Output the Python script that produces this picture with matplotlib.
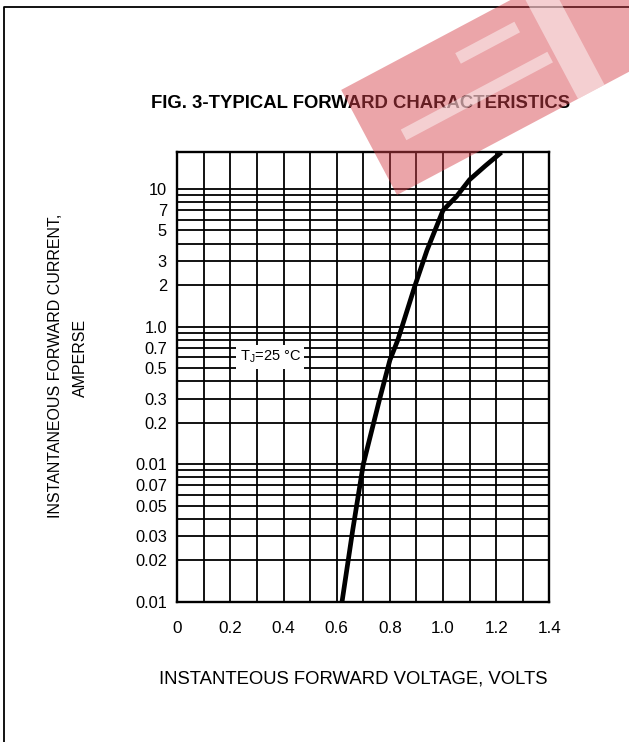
import numpy as np
import matplotlib
matplotlib.use("Agg")
import matplotlib.pyplot as plt
from matplotlib.ticker import FixedLocator, LogLocator, MultipleLocator
from matplotlib.patches import Polygon

plt.rcParams['font.family'] = ['Liberation Sans', 'DejaVu Sans']

# forward characteristic
voltage = [0.62, 0.66, 0.70, 0.76, 0.80, 0.83, 0.895, 0.94, 1.00, 1.05, 1.10, 1.16, 1.22]
current = [0.01, 0.033, 0.10, 0.29, 0.57, 0.80, 2.0, 3.6, 7.0, 8.8, 11.7, 14.8, 18.5]

x_ticks = [0, 0.2, 0.4, 0.6, 0.8, 1.0, 1.2, 1.4]
x_labels = ['0', '0.2', '0.4', '0.6', '0.8', '1.0', '1.2', '1.4']
y_ticks = [0.01, 0.02, 0.03, 0.05, 0.07, 0.1, 0.2, 0.3, 0.5, 0.7, 1, 2, 3, 5, 7, 10]
# the original sheet prints "0.01" at the 0.1 line, kept as is
y_labels = ['0.01', '0.02', '0.03', '0.05', '0.07', '0.01', '0.2', '0.3', '0.5', '0.7',
            '1.0', '2', '3', '5', '7', '10']

W, H = 629, 742
fig = plt.figure(figsize=(W / 100, H / 100), dpi=100)
ax = fig.add_axes([177.3 / W, 1 - 601.7 / H, 372.0 / W, 449.4 / H])

ax.set_yscale('log')
ax.set_xlim(0, 1.4)
ax.set_ylim(0.01, 18.5)

ax.xaxis.set_major_locator(FixedLocator(x_ticks))
ax.xaxis.set_minor_locator(MultipleLocator(0.1))
ax.set_xticklabels(x_labels)
ax.yaxis.set_major_locator(FixedLocator(y_ticks))
ax.yaxis.set_minor_locator(LogLocator(base=10, subs=np.arange(1, 10)))
ax.set_yticklabels(y_labels)
ax.yaxis.set_minor_formatter(plt.NullFormatter())

ax.tick_params(axis='both', which='both', length=0)
ax.tick_params(axis='x', pad=14, labelsize=12.3)
ax.tick_params(axis='y', pad=7.5, labelsize=11.8)
ax.grid(True, which='both', color='black', lw=1.3)
for s in ax.spines.values():
    s.set_linewidth(1.7)

ax.plot(voltage, current, color='black', lw=3.4, solid_capstyle='butt', zorder=3)

ax.text(0.35, 0.6, r'T$_\mathregular{J}$=25 °C', fontsize=10.5, ha='center', va='center',
        bbox=dict(facecolor='white', edgecolor='none', pad=2.5), zorder=4)

# overlay in pixel coordinates: frame, titles, watermark
ov = fig.add_axes([0, 0, 1, 1], zorder=10)
ov.set_xlim(0, W)
ov.set_ylim(H, 0)
ov.axis('off')

ov.plot([4, 4, W], [H, 7, 7], color='black', lw=1.3)

ov.text(361, 104, 'FIG. 3-TYPICAL FORWARD CHARACTERISTICS', fontsize=13.3, fontweight='bold',
        ha='center', va='center')
ov.text(353, 679, 'INSTANTEOUS FORWARD VOLTAGE, VOLTS', fontsize=13.3,
        ha='center', va='center')
ov.text(56, 366, 'INSTANTANEOUS FORWARD CURRENT,', fontsize=11.5, rotation=90,
        ha='center', va='center')
ov.text(80.5, 358, 'AMPERSE', fontsize=11.5, rotation=90, ha='center', va='center')

# watermark logo, rotated rectangle with white bars
o = np.array([397.0, 195.0])
uh = np.array([0.883, -0.469])
vh = np.array([-0.469, -0.883])


def rot_rect(u0, u1, v0, v1):
    pts = [o + u * uh + v * vh for u, v in [(u0, v0), (u1, v0), (u1, v1), (u0, v1)]]
    return np.array(pts)


ov.add_patch(Polygon(rot_rect(0, 330, 0, 119), closed=True, fc='#d5404a', ec='none', alpha=0.47, zorder=5))
for r in [(34, 200, 44, 56), (118, 185, 86, 98), (205, 235, 0, 119)]:
    ov.add_patch(Polygon(rot_rect(*r), closed=True, fc='white', ec='none', alpha=0.47, zorder=6))

fig.savefig('out.png', dpi=100)
